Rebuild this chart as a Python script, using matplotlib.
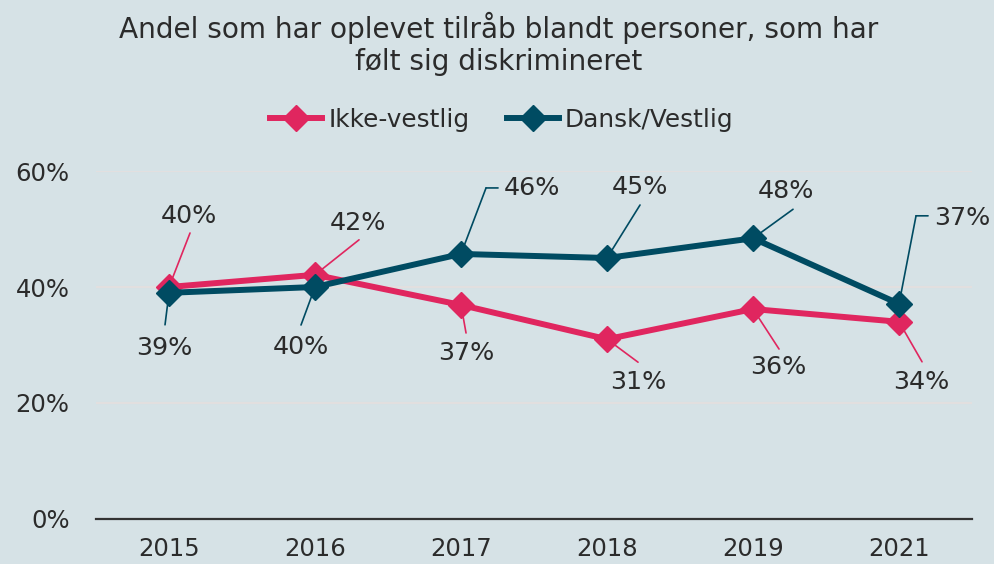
import matplotlib.pyplot as plt
from matplotlib.transforms import offset_copy

plt.rcParams["font.family"] = ["DejaVu Sans"]

# =====================================================
# DATA
# =====================================================

years = ["2015", "2016", "2017", "2018", "2019", "2021"]

ikke_vestlig = [0.400, 0.421, 0.369, 0.310, 0.362, 0.340]
dansk_vestlig = [0.390, 0.400, 0.457, 0.450, 0.484, 0.371]

ikke_labels = ["40%", "42%", "37%", "31%", "36%", "34%"]
dansk_labels = ["39%", "40%", "46%", "45%", "48%", "37%"]

yticks = [0.0, 0.2, 0.4, 0.6]
ytick_labels = ["0%", "20%", "40%", "60%"]

# =====================================================
# STYLE
# =====================================================

BG = "#d6e2e6"
PINK = "#e0265f"
TEAL = "#004b62"
TEXT = "#2b2b2b"
GRID = "#e2dfdf"

# leader polylines and label centres, pixel offsets from the point
ikke_leaders = [
    [(0, 0), (21, 54)],
    [(0, 0), (44, 35)],
    [(0, 0), (5, -28)],
    [(0, 0), (31, -23)],
    [(0, 0), (26, -40)],
    [(0, 0), (23, -40)],
]
ikke_text = [(20, 71), (43, 52), (5, -48), (31, -43), (25, -58), (22, -60)]

dansk_leaders = [
    [(0, 0), (-4, -32)],
    [(0, 0), (-14, -38)],
    [(0, 0), (25, 66), (37, 66)],
    [(0, 0), (33, 53)],
    [(0, 0), (40, 29)],
    [(0, 0), (17, 88), (29, 88)],
]
dansk_text = [(-5, -55), (-14, -60), (71, 66), (33, 71), (33, 47), (63, 86)]

# =====================================================
# FIGURE
# =====================================================

fig = plt.figure(
    figsize=(9.94, 5.64),
    dpi=100,
    facecolor=BG
)

ax = fig.add_axes([0.0966, 0.0798, 0.8813, 0.6170])
ax.set_facecolor(BG)

x = list(range(len(years)))

ax.plot(
    x, ikke_vestlig,
    color=PINK, lw=4.3,
    marker="D", markersize=13,
    label="Ikke-vestlig", zorder=3,
    clip_on=False
)

ax.plot(
    x, dansk_vestlig,
    color=TEAL, lw=4.3,
    marker="D", markersize=13,
    label="Dansk/Vestlig", zorder=4,
    clip_on=False
)

ax.set_xlim(-0.5, len(years) - 0.5)
ax.set_ylim(0, 0.6)

ax.set_xticks(x)
ax.set_xticklabels(years)
ax.set_yticks(yticks)
ax.set_yticklabels(ytick_labels)

ax.tick_params(
    axis="both", length=0,
    labelsize=17.5, labelcolor=TEXT
)
ax.tick_params(axis="y", pad=19)
ax.tick_params(axis="x", pad=13)

for s in ["top", "right", "left"]:
    ax.spines[s].set_visible(False)
ax.spines["bottom"].set_color("#333333")
ax.spines["bottom"].set_linewidth(1.6)

ax.yaxis.grid(True, color=GRID, lw=1.5)
ax.set_axisbelow(True)

# =====================================================
# DATA LABELS
# =====================================================


def label_series(values, labels, leaders, texts, color):
    for i, v in enumerate(values):
        path = leaders[i]
        for a, b in zip(path[:-1], path[1:]):
            ax.annotate(
                "",
                xy=(i, v),
                xycoords=offset_copy(ax.transData, fig=fig,
                                     x=a[0], y=a[1], units="dots"),
                xytext=(b[0] - a[0], b[1] - a[1]),
                textcoords="offset pixels",
                arrowprops=dict(arrowstyle="-", color=color, lw=1.2,
                                shrinkA=0, shrinkB=0),
                zorder=2,
                annotation_clip=False
            )
        ax.annotate(
            labels[i],
            xy=(i, v),
            xytext=texts[i],
            textcoords="offset pixels",
            ha="center", va="center",
            fontsize=18.3, color=TEXT,
            annotation_clip=False
        )


label_series(ikke_vestlig, ikke_labels, ikke_leaders, ikke_text, PINK)
label_series(dansk_vestlig, dansk_labels, dansk_leaders, dansk_text, TEAL)

# =====================================================
# TITLE AND LEGEND
# =====================================================

fig.text(
    0.502, 1 - 44 / 564,
    "Andel som har oplevet tilråb blandt personer, som har\n"
    "følt sig diskrimineret",
    ha="center", va="center",
    fontsize=20.2, color=TEXT,
    linespacing=1.15
)

fig.legend(
    loc="center",
    bbox_to_anchor=(0.505, 1 - 120 / 564),
    ncol=2, frameon=False,
    fontsize=17.8, labelcolor=TEXT,
    handlelength=2.1, handletextpad=0.25,
    columnspacing=1.5
)

fig.savefig("out.png", dpi=100, facecolor=BG)
